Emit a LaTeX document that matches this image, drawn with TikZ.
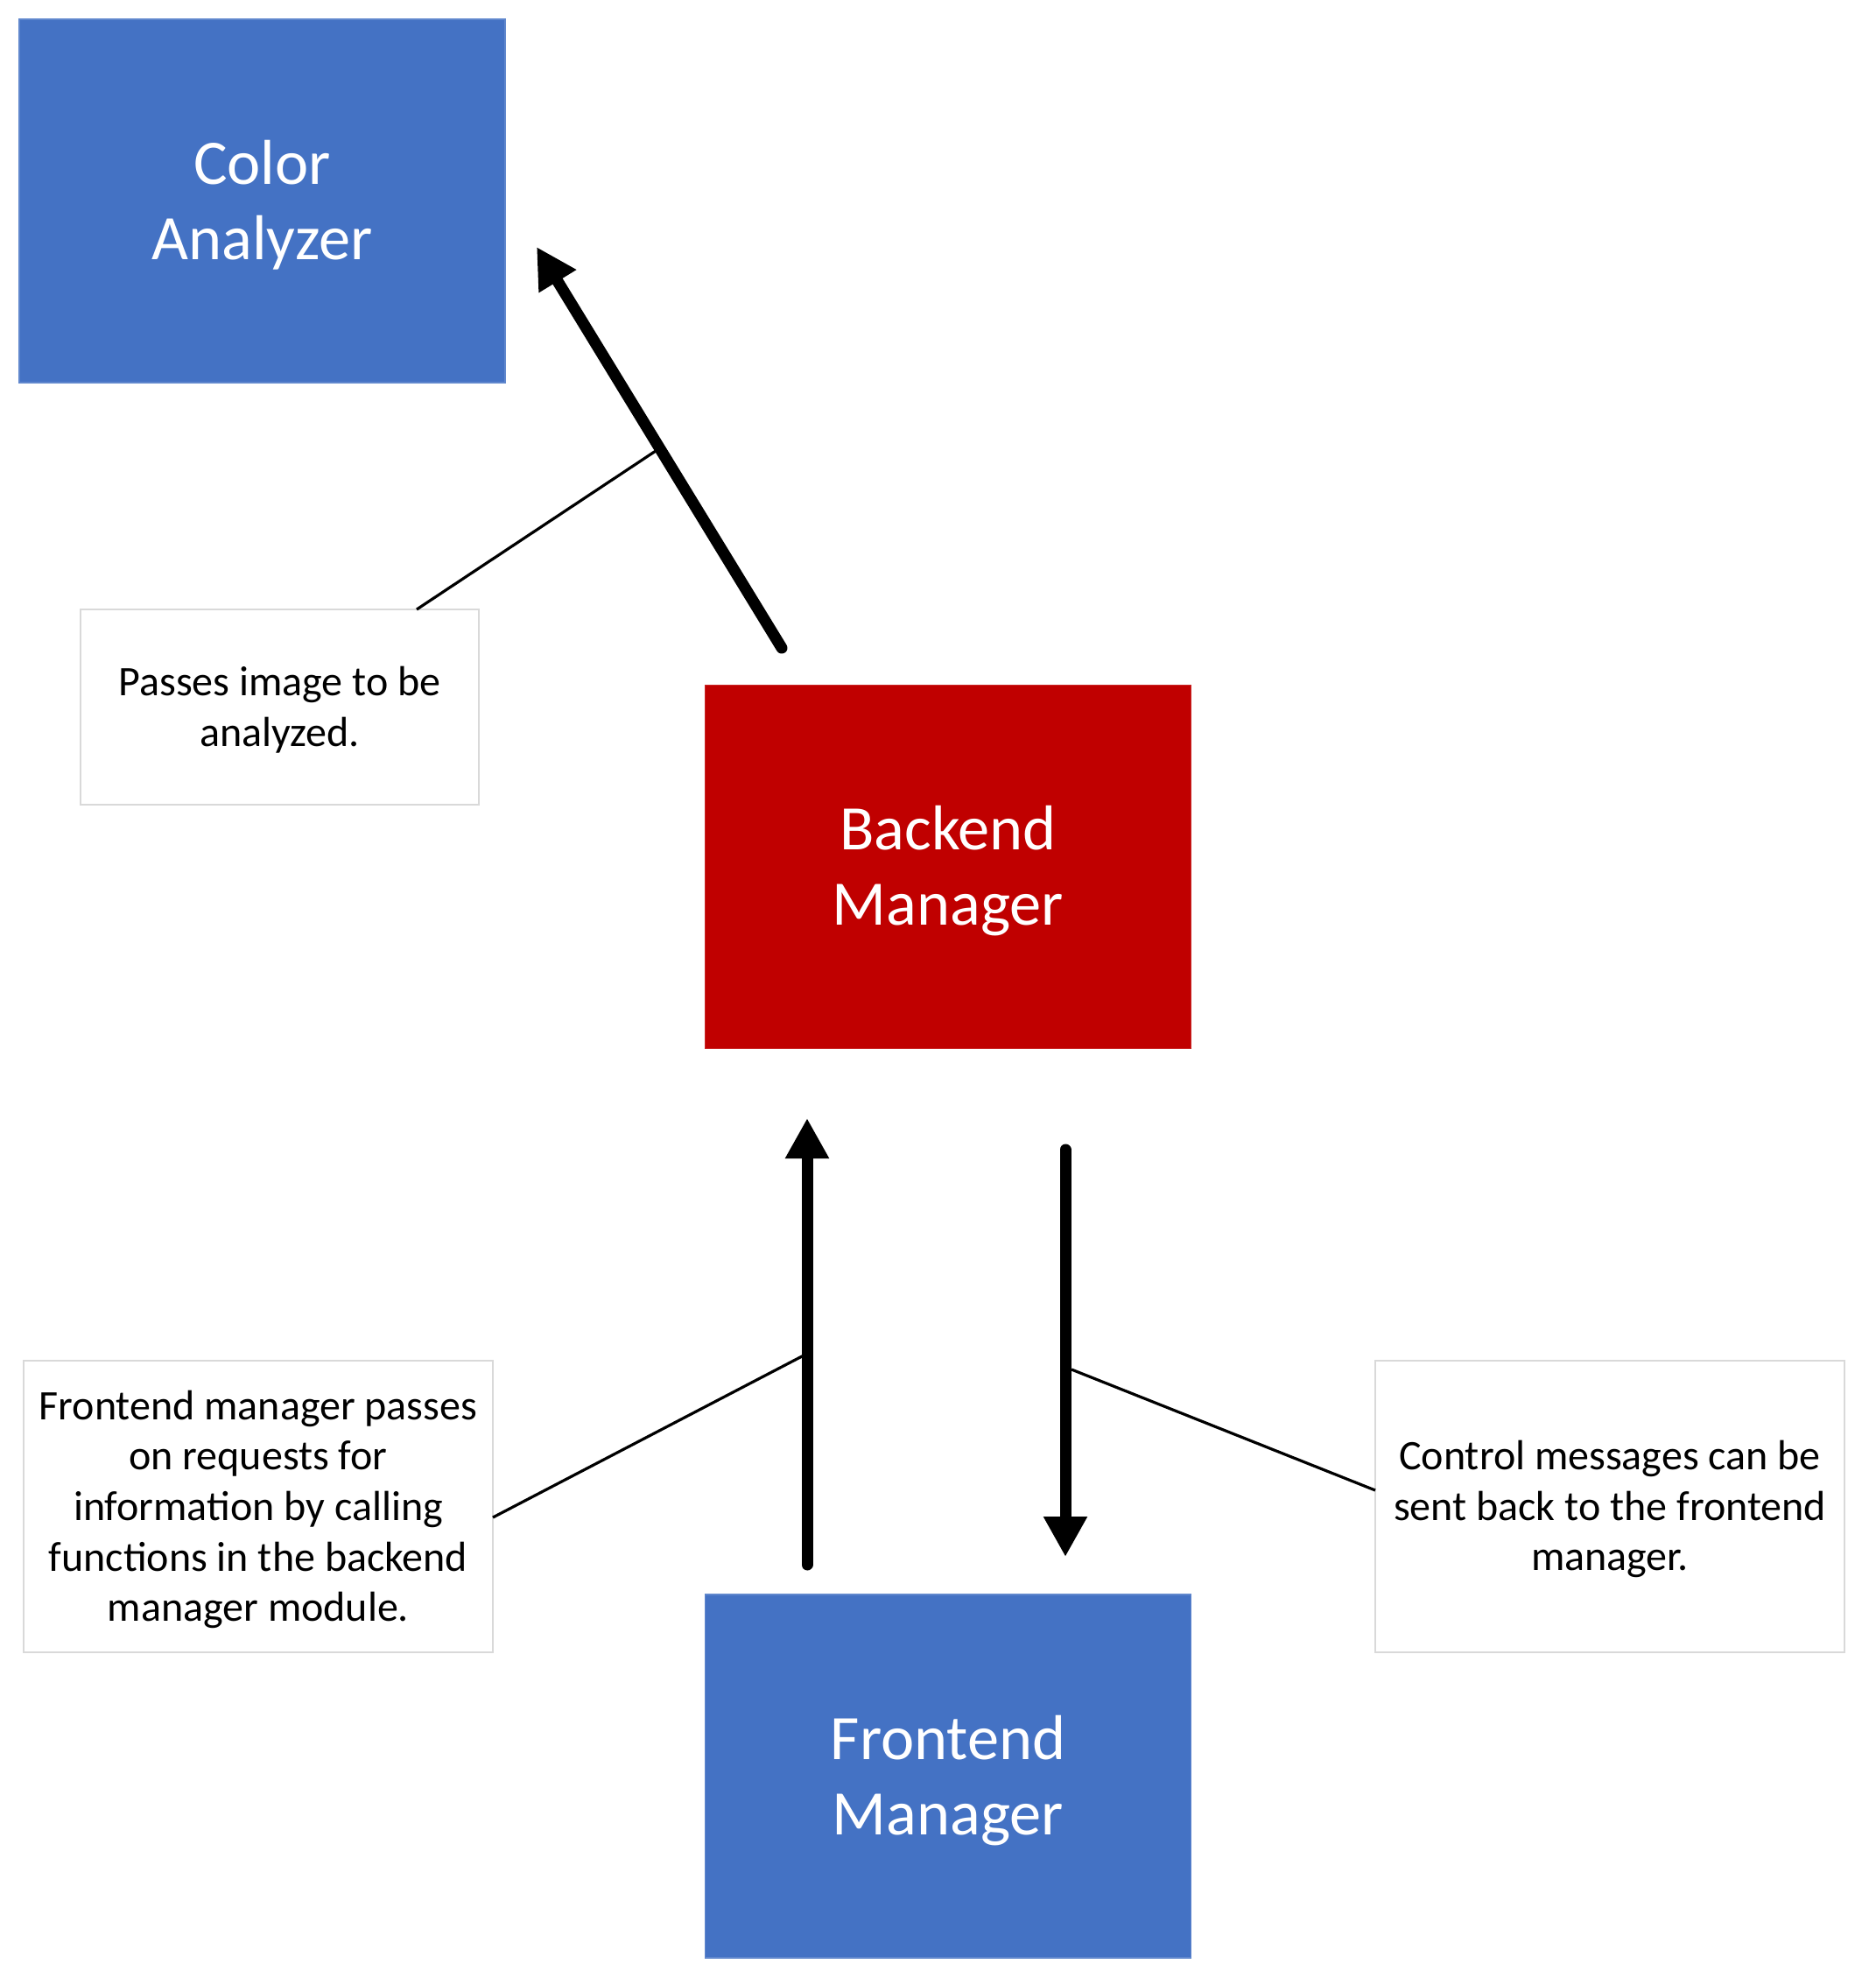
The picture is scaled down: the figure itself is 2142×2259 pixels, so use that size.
\documentclass[tikz,border=0pt]{standalone}
\usepackage{fontspec}
\setmainfont{Carlito}
\usetikzlibrary{arrows.meta}
\definecolor{boxblue}{HTML}{4472C4}
\definecolor{boxred}{HTML}{C00000}
\definecolor{callgray}{HTML}{D9D9D9}
\newcommand{\topstrut}[1]{\rule{0pt}{#1}}
\begin{document}
\begin{tikzpicture}[x=0.5pt,y=-0.5pt,
  module/.style={rectangle, inner sep=0pt, minimum width=277.5pt, minimum height=207.5pt,
    text=white, font=\fontsize{36.2}{43}\selectfont, align=center, draw=#1!85!white, line width=0.6pt, fill=#1},
  callout/.style={rectangle, inner sep=0pt, draw=callgray, line width=1pt, fill=white,
    text=black, font=\fontsize{24}{28.8}\selectfont, align=center},
  bigarrow/.style={line width=6.5pt, line cap=round, -{Triangle[width=23.5pt,length=23pt]}},
  leader/.style={line width=1.6pt, black}
]
\useasboundingbox (0,0) rectangle (2142,2259);
% modules
\node[module=boxblue] (ca) at (299.5,229.5) {\topstrut{30pt}Color\\Analyzer};
\node[module=boxred] (bm) at (1083,990) {\topstrut{30pt}Backend\\Manager};
\node[module=boxblue] (fm) at (1083,2028.5) {\topstrut{30pt}Frontend\\Manager};
% callouts
\node[callout, minimum width=227.5pt, minimum height=111.5pt] (c1) at (319.5,807.5) {\topstrut{20pt}Passes image to be\\analyzed.};
\node[callout, minimum width=268pt, minimum height=166.5pt] (c2) at (295,1720.5) {\topstrut{20pt}Frontend manager passes\\on requests for\\information by calling\\functions in the backend\\manager module.};
\node[callout, minimum width=268pt, minimum height=166.5pt] (c3) at (1839,1720.5) {\topstrut{20pt}Control messages can be\\sent back to the frontend\\manager.};
% arrow end points
\coordinate (a1s) at (893,740);
\coordinate (a1e) at (613,282);
\coordinate (a2s) at (922,1787);
\coordinate (a2e) at (922,1277);
\coordinate (a3s) at (1217,1313);
\coordinate (a3e) at (1217,1778);
\draw[bigarrow] (a1s) -- (a1e);
\draw[bigarrow] (a2s) -- (a2e);
\draw[bigarrow] (a3s) -- (a3e);
% leader lines
\coordinate (l1a) at (476,696);
\coordinate (l1b) at (749,515);
\coordinate (l2a) at (563,1733);
\coordinate (l2b) at (918,1548);
\coordinate (l3a) at (1571,1702);
\coordinate (l3b) at (1224,1564);
\draw[leader] (l1a) -- (l1b);
\draw[leader] (l2a) -- (l2b);
\draw[leader] (l3a) -- (l3b);
\end{tikzpicture}
\end{document}
